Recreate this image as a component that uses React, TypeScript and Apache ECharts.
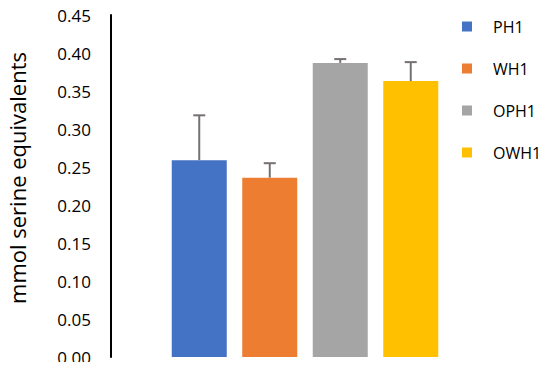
import React, { useEffect, useRef } from "react";
import * as echarts from "echarts";

const categories = ["PH1", "WH1", "OPH1", "OWH1"];
const means = [0.259, 0.236, 0.387, 0.363];
const errors = [0.059, 0.019, 0.005, 0.025];
const colors = ["#4472C4", "#ED7D31", "#A5A5A5", "#FFC000"];
const yTicks = { min: 0, max: 0.45, interval: 0.05 };
const yTitle = "mmol serine equivalents";

export default function App() {
  const ref = useRef<HTMLDivElement>(null);
  useEffect(() => {
    if (!ref.current) return;
    const chart = echarts.init(ref.current, null, { renderer: "svg" });
    const font = "Open Sans, Noto Sans, sans-serif";
    const barSeries = categories.map((name, i) => ({
      name,
      type: "bar",
      barWidth: 55,
      barGap: "-100%",
      itemStyle: { color: colors[i] },
      data: categories.map((_, j) => (j === i ? means[i] : "-")),
    }));
    const errData = means.map((m, i) => [i, m, m + errors[i]]);
    chart.setOption({
      animation: false,
      grid: { left: 164, right: 104, top: 15, bottom: 13 },
      graphic: [
        {
          type: "text",
          x: 17,
          y: 178,
          rotation: Math.PI / 2,
          style: {
            text: yTitle,
            fontFamily: font,
            fontSize: 22,
            fill: "#000",
            textAlign: "center",
            textVerticalAlign: "middle",
          },
        },
      ],
      legend: {
        orient: "vertical",
        left: 462,
        top: 18,
        padding: 0,
        itemWidth: 10,
        itemHeight: 10,
        itemGap: 25,
        icon: "rect",
        data: categories,
        textStyle: { fontFamily: font, fontSize: 16, lineHeight: 17, color: "#000", padding: [0, 0, 0, 16] },
      },
      xAxis: {
        type: "category",
        data: categories,
        show: false,
      },
      yAxis: {
        type: "value",
        min: yTicks.min,
        max: yTicks.max,
        interval: yTicks.interval,
        offset: 53,
        axisLine: { show: true, lineStyle: { color: "#000", width: 2 } },
        axisTick: { show: false },
        splitLine: { show: false },
        axisLabel: {
          fontFamily: font,
          fontSize: 17,
          color: "#000",
          margin: 20,
          formatter: (v: number) => v.toFixed(2),
        },
      },
      series: [
        ...barSeries,
        {
          type: "custom",
          name: "err",
          data: errData,
          z: 5,
          renderItem: (params: any, api: any) => {
            const x = api.value(0);
            const top = api.coord([x, api.value(2)]);
            const base = api.coord([x, api.value(1)]);
            const style = { stroke: "#767171", lineWidth: 2 };
            return {
              type: "group",
              children: [
                { type: "line", shape: { x1: base[0], y1: base[1], x2: top[0], y2: top[1] }, style },
                { type: "line", shape: { x1: top[0] - 6, y1: top[1], x2: top[0] + 6, y2: top[1] }, style },
              ],
            };
          },
        },
      ],
    });
    return () => chart.dispose();
  }, []);
  return <div ref={ref} style={{ width: 550, height: 370, margin: -8 }} />;
}
